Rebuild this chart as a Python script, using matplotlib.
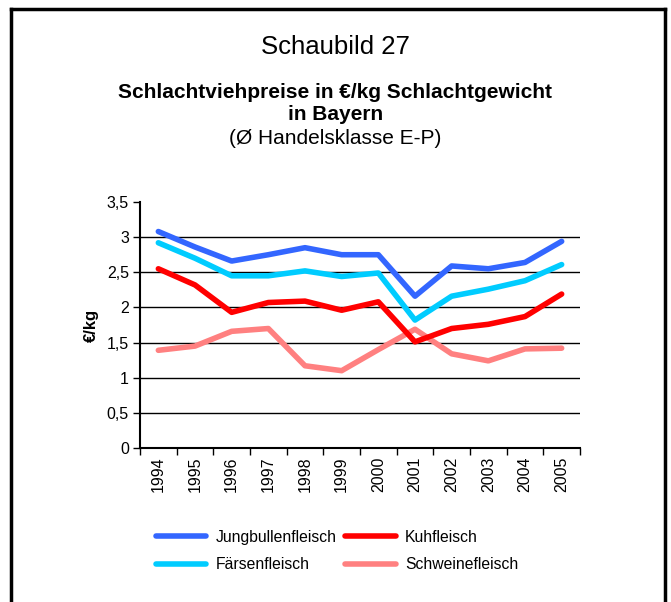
import matplotlib
matplotlib.use("Agg")
import matplotlib.pyplot as plt
from matplotlib.lines import Line2D

plt.rcParams['font.family'] = ['Liberation Sans', 'DejaVu Sans']

# data
years = ['1994', '1995', '1996', '1997', '1998', '1999',
         '2000', '2001', '2002', '2003', '2004', '2005']
jungbullen = [3.08, 2.86, 2.66, 2.75, 2.85, 2.75, 2.75, 2.16, 2.59, 2.55, 2.64, 2.94]
faersen = [2.92, 2.70, 2.45, 2.45, 2.52, 2.44, 2.49, 1.82, 2.16, 2.26, 2.38, 2.61]
kuh = [2.55, 2.32, 1.93, 2.07, 2.09, 1.96, 2.08, 1.51, 1.70, 1.76, 1.87, 2.19]
schwein = [1.39, 1.45, 1.66, 1.70, 1.17, 1.10, 1.40, 1.69, 1.34, 1.24, 1.41, 1.42]

# legend order (column-major for matplotlib): Jungbullen, Färsen | Kuh, Schwein
names = ['Jungbullenfleisch', 'Färsenfleisch', 'Kuhfleisch', 'Schweinefleisch']
colors = ['#3366FF', '#00CCFF', '#FF0000', '#FF8080']
yticks = [0, 0.5, 1, 1.5, 2, 2.5, 3, 3.5]
ytick_labels = ['0', '0,5', '1', '1,5', '2', '2,5', '3', '3,5']

fig = plt.figure(figsize=(6.71, 6.02), dpi=100)
ax = fig.add_axes([140/671, 1 - 448/602, 440/671, 246/602])

x = list(range(len(years)))
series = {'Jungbullenfleisch': jungbullen, 'Kuhfleisch': kuh,
          'Färsenfleisch': faersen, 'Schweinefleisch': schwein}
# pink first so the others sit on top
for name in ['Schweinefleisch', 'Kuhfleisch', 'Färsenfleisch', 'Jungbullenfleisch']:
    c = colors[names.index(name)]
    ax.plot(x, series[name], color=c, lw=4, solid_capstyle='round',
            solid_joinstyle='round', zorder=3)

ax.set_xlim(-0.5, len(years) - 0.5)
ax.set_ylim(0, 3.5)
ax.set_yticks(yticks)
ax.set_yticklabels(ytick_labels, fontsize=11.5)
for v in yticks[1:-1]:
    ax.axhline(v, color='black', lw=1, zorder=1)

ax.set_xticks([i + 0.5 for i in range(-1, len(years))])
ax.set_xticklabels([])
ax.set_xticks(x, minor=True)
ax.set_xticklabels(years, minor=True, rotation=90, fontsize=11.5)
ax.tick_params(axis='x', which='minor', length=0, pad=6)
ax.tick_params(axis='x', which='major', length=5, direction='out', width=1)
ax.tick_params(axis='y', length=5, direction='out', width=1, pad=3)

for s in ['top', 'right']:
    ax.spines[s].set_visible(False)
for s in ['left', 'bottom']:
    ax.spines[s].set_linewidth(1.5)

ax.set_ylabel('€/kg', fontsize=12, fontweight='bold', labelpad=6)

# titles
fig.text(0.5, 1 - 47/602, 'Schaubild 27', ha='center', va='center', fontsize=18.5)
fig.text(0.5, 1 - 92/602, 'Schlachtviehpreise in €/kg Schlachtgewicht',
         ha='center', va='center', fontsize=15, fontweight='bold')
fig.text(0.5, 1 - 114/602, 'in Bayern', ha='center', va='center',
         fontsize=15, fontweight='bold')
fig.text(0.5, 1 - 138/602, '(Ø Handelsklasse E-P)', ha='center', va='center',
         fontsize=15)

# legend
handles = [Line2D([], [], color=c, lw=4, solid_capstyle='round') for c in colors]
fig.legend(handles, names, ncol=2, loc='center left',
           bbox_to_anchor=(142/671, 1 - 551/602), frameon=False,
           fontsize=11.3, handlelength=3.2, handletextpad=0.6,
           columnspacing=0.55, labelspacing=0.8)

# outer frame, open at the bottom
fr = dict(color='black', lw=2.5, transform=fig.transFigure)
fig.add_artist(Line2D([11/671, 11/671], [0, 1 - 9/602], **fr))
fig.add_artist(Line2D([665/671, 665/671], [0, 1 - 9/602], **fr))
fig.add_artist(Line2D([11/671, 665/671], [1 - 9/602, 1 - 9/602], **fr))

fig.savefig('out.png', dpi=100)
